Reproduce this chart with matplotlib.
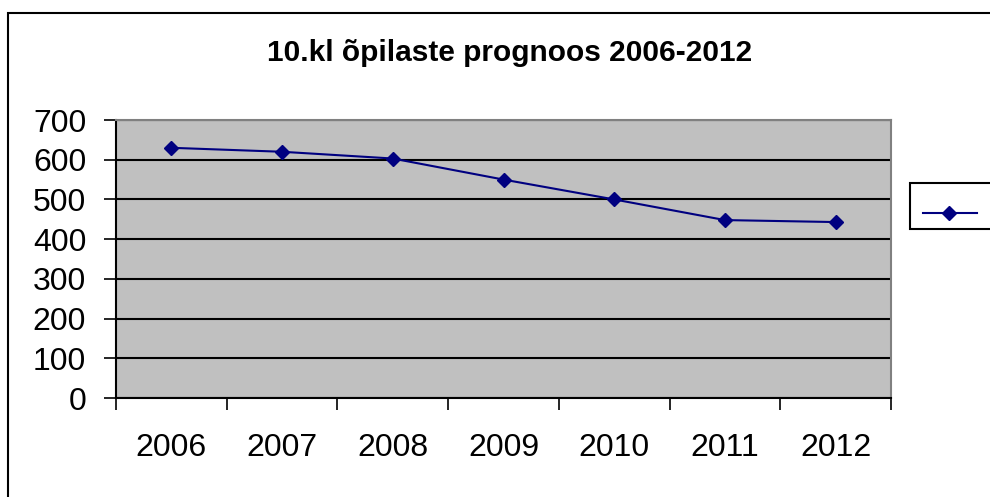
import matplotlib
matplotlib.use("Agg")
import matplotlib.pyplot as plt
from matplotlib.patches import Rectangle
from matplotlib.lines import Line2D

years = ["2006", "2007", "2008", "2009", "2010", "2011", "2012"]
students = [630, 620, 603, 550, 500, 448, 443]
y_ticks = [0, 100, 200, 300, 400, 500, 600, 700]
title = "10.kl õpilaste prognoos 2006-2012"

plt.rcParams['font.family'] = ['Liberation Sans', 'DejaVu Sans']

W, H = 990, 497
fig = plt.figure(figsize=(W / 100, H / 100), dpi=100)

def fx(px):
    return px / W

def fy(py):
    return 1 - py / H

left, right, top, bottom = 116, 891, 120, 398
ax = fig.add_axes([fx(left), fy(bottom), fx(right) - fx(left), fy(top) - fy(bottom)])
ax.set_facecolor('#C0C0C0')

x = list(range(len(years)))
ax.plot(x, students, color='#000080', lw=1.5, marker='D', ms=7.5, zorder=5, clip_on=False)

ax.set_xlim(-0.5, len(years) - 0.5)
ax.set_ylim(0, 700)
ax.set_yticks(y_ticks)
ax.set_yticklabels([str(v) for v in y_ticks])
ax.yaxis.grid(True, color='black', lw=1.5)
ax.set_axisbelow(True)

ax.set_xticks([i - 0.5 for i in range(len(years) + 1)])
ax.set_xticklabels([])
ax.set_xticks(x, minor=True)
ax.set_xticklabels(years, minor=True)
ax.tick_params(axis='x', which='major', length=8.5, width=1.2, color='black', direction='out')
ax.tick_params(axis='x', which='minor', length=0, pad=25, labelsize=23)
ax.tick_params(axis='y', length=8.5, width=1.2, direction='out', pad=13, labelsize=23)

for s in ['left', 'bottom']:
    ax.spines[s].set_color('black')
    ax.spines[s].set_linewidth(1.5)
for s in ['top', 'right']:
    ax.spines[s].set_color('#808080')
    ax.spines[s].set_linewidth(1.5)

fig.text(fx(510), fy(53), title, ha='center', va='center', fontsize=21.5, fontweight='bold')

# outer chart border (extends beyond the image at right and bottom)
fig.patches.append(Rectangle((fx(8), fy(H + 10)), fx(W + 20) - fx(8), fy(13) - fy(H + 10),
                             transform=fig.transFigure, fill=False, ec='black', lw=1.5))

# legend box (cut off at the right)
fig.patches.append(Rectangle((fx(910), fy(229)), fx(W + 20) - fx(910), fy(183) - fy(229),
                             transform=fig.transFigure, fill=True, fc='white', ec='black', lw=1.5))
fig.lines.append(Line2D([fx(923), fx(977)], [fy(213), fy(213)], transform=fig.transFigure,
                        color='#000080', lw=1.5))
fig.lines.append(Line2D([fx(949)], [fy(213)], transform=fig.transFigure,
                        color='#000080', marker='D', ms=7.5, lw=0))

fig.savefig("out.png", dpi=100)
